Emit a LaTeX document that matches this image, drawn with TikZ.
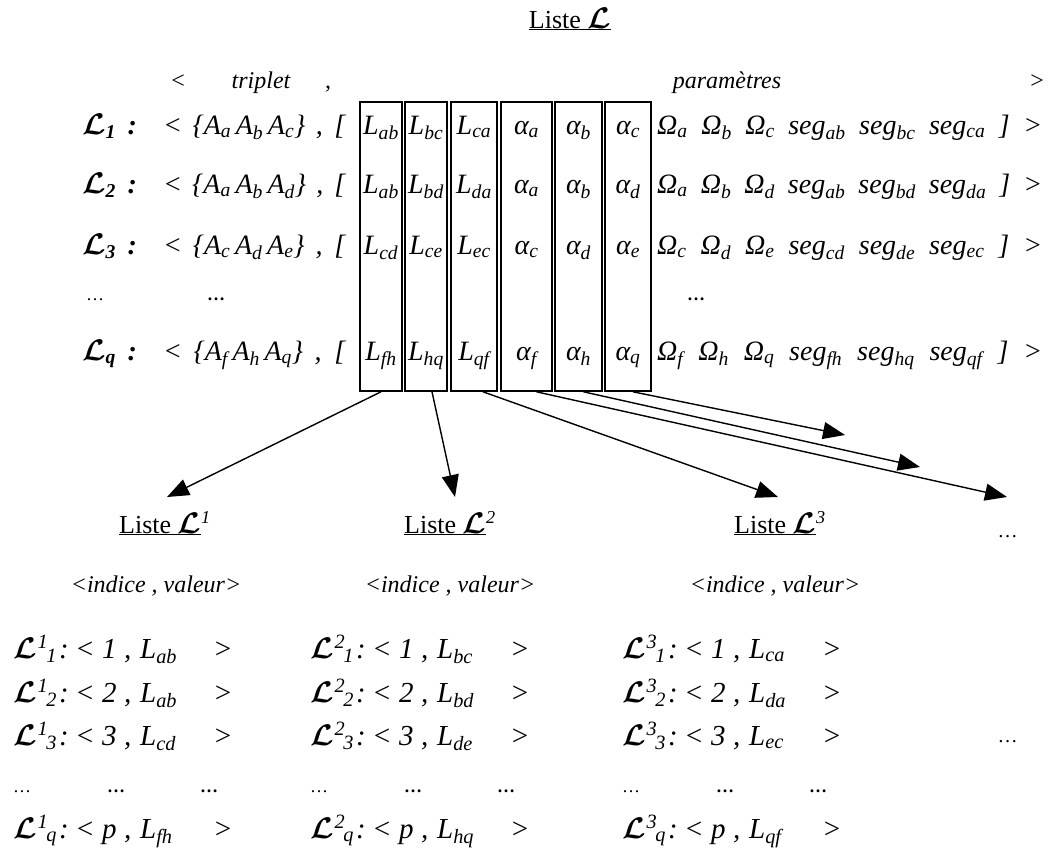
\documentclass[tikz,border=0pt]{standalone}
\usepackage{graphicx}
\usepackage{fontspec}
\setmainfont{Liberation Serif}
\usetikzlibrary{arrows.meta,calc}
\newcommand\Lc{\scalebox{1.2}{\boldmath$\mathcal{L}$}}
\newcommand\sbs[1]{\textsubscript{#1}}
\newcommand\trip[3]{\makebox[182pt][s]{< \{A\sbs{#1}\,A\sbs{#2}\,A\sbs{#3}\} , [}}
\newcommand\pars[6]{\makebox[385pt][s]{Ω\sbs{#1} Ω\sbs{#2} Ω\sbs{#3} seg\sbs{#4} seg\sbs{#5} seg\sbs{#6} ] >}}
\newcommand\brow[4]{\makebox[62pt][l]{\Lc\kern1pt\textsuperscript{#1}\kern-2pt\sbs{#2}\kern2pt:}\makebox[27pt][l]{<}\makebox[22pt][l]{#3}\makebox[16pt][l]{,}\makebox[73pt][l]{L\sbs{#4}}>}
\begin{document}
\begin{tikzpicture}[x=1pt,y=-1pt,
  big/.style={font=\fontsize{28}{32}\selectfont\itshape, inner sep=0pt, anchor=base west},
  lab/.style={font=\fontsize{28}{32}\selectfont\bfseries\itshape, inner sep=0pt, anchor=base west},
  cell/.style={font=\fontsize{28}{32}\selectfont\itshape, inner sep=0pt, anchor=base},
  colbox/.style={draw, line width=1.6pt, minimum width=#1, minimum height=289pt, inner sep=0pt},
  hdr/.style={font=\fontsize{24}{28}\selectfont\itshape, inner sep=0pt, anchor=base},
  title/.style={font=\fontsize{26}{30}\selectfont, inner sep=0pt, anchor=base},
  sml/.style={font=\fontsize{29}{33}\selectfont\itshape, inner sep=0pt, anchor=base west},
  dotsty/.style={font=\fontsize{18}{20}\selectfont, inner sep=0pt, anchor=base west},
  arr/.style={line width=1.4pt, -{Triangle[length=22pt,width=17pt]}}]
\useasboundingbox (0,0) rectangle (1060,854);
% title
\node[title] (t0) at (570,28) {\underline{Liste \Lc}};
% header
\node[hdr] (h1) at (178,88) {<};
\node[hdr] (h2) at (261,88) {triplet};
\node[hdr] (h3) at (328,88) {,};
\node[hdr] (h4) at (727,88) {paramètres};
\node[hdr] (h5) at (1037,88) {>};
% column boxes
\node[colbox=42pt] (c1) at (381,246.5) {};
\node[colbox=42pt] (c2) at (426,246.5) {};
\node[colbox=46pt] (c3) at (474,246.5) {};
\node[colbox=51pt] (c4) at (526.5,246.5) {};
\node[colbox=47pt] (c5) at (578.5,246.5) {};
\node[colbox=46pt] (c6) at (628,246.5) {};
% row 1
\node[lab] (l1) at (82,134) {\Lc\sbs{1}\, :};
\node[big] (p1) at (163,134) {\trip{a}{b}{c}};
\node[cell] (r1a) at (381,134) {L\sbs{ab}};
\node[cell] (r1b) at (426,134) {L\sbs{bc}};
\node[cell] (r1c) at (474,134) {L\sbs{ca}};
\node[cell] (r1d) at (526.5,134) {α\sbs{a}};
\node[cell] (r1e) at (578.5,134) {α\sbs{b}};
\node[cell] (r1f) at (628,134) {α\sbs{c}};
\node[big] (q1) at (657,134) {\pars{a}{b}{c}{ab}{bc}{ca}};
% row 2
\node[lab] (l2) at (82,193) {\Lc\sbs{2}\, :};
\node[big] (p2) at (163,193) {\trip{a}{b}{d}};
\node[cell] (r2a) at (381,193) {L\sbs{ab}};
\node[cell] (r2b) at (426,193) {L\sbs{bd}};
\node[cell] (r2c) at (474,193) {L\sbs{da}};
\node[cell] (r2d) at (526.5,193) {α\sbs{a}};
\node[cell] (r2e) at (578.5,193) {α\sbs{b}};
\node[cell] (r2f) at (628,193) {α\sbs{d}};
\node[big] (q2) at (657,193) {\pars{a}{b}{d}{ab}{bd}{da}};
% row 3
\node[lab] (l3) at (82,254) {\Lc\sbs{3}\, :};
\node[big] (p3) at (163,254) {\trip{c}{d}{e}};
\node[cell] (r3a) at (381,254) {L\sbs{cd}};
\node[cell] (r3b) at (426,254) {L\sbs{ce}};
\node[cell] (r3c) at (474,254) {L\sbs{ec}};
\node[cell] (r3d) at (526.5,254) {α\sbs{c}};
\node[cell] (r3e) at (578.5,254) {α\sbs{d}};
\node[cell] (r3f) at (628,254) {α\sbs{e}};
\node[big] (q3) at (657,254) {\pars{c}{d}{e}{cd}{de}{ec}};
% dots row
\node[dotsty] (d1) at (86,300) {\dots};
\node[dotsty,font=\fontsize{18}{20}\selectfont\bfseries] (d2) at (207,300) {\dots};
\node[dotsty,font=\fontsize{18}{20}\selectfont\bfseries] (d3) at (687,300) {\dots};
% row q
\node[lab] (l4) at (82,360) {\Lc\sbs{q}\, :};
\node[big] (p4) at (163,360) {\trip{f}{h}{q}};
\node[cell] (r4a) at (381,360) {L\sbs{fh}};
\node[cell] (r4b) at (426,360) {L\sbs{hq}};
\node[cell] (r4c) at (474,360) {L\sbs{qf}};
\node[cell] (r4d) at (526.5,360) {α\sbs{f}};
\node[cell] (r4e) at (578.5,360) {α\sbs{h}};
\node[cell] (r4f) at (628,360) {α\sbs{q}};
\node[big] (q4) at (657,360) {\pars{f}{h}{q}{fh}{hq}{qf}};
% arrow tips
\coordinate (e1) at (167,497);
\coordinate (e2) at (455,497);
\coordinate (e3) at (778,497);
\coordinate (e4) at (1007,497);
\coordinate (e5) at (920,467);
\coordinate (e6) at (845,435);
\draw[arr] (c1.south) -- (e1);
\draw[arr] ($(c2.south)+(6,0)$) -- (e2);
\draw[arr] ($(c3.south)+(9,0)$) -- (e3);
\draw[arr] ($(c4.south)+(10,0)$) -- (e4);
\draw[arr] ($(c5.south)+(5,0)$) -- (e5);
\draw[arr] ($(c6.south)+(5,0)$) -- (e6);
% sub-lists
\node[title] (t1) at (165,533) {\underline{Liste \Lc}\textsuperscript{\itshape 1}};
\node[title] (t2) at (450,533) {\underline{Liste \Lc}\textsuperscript{\itshape 2}};
\node[title] (t3) at (780,533) {\underline{Liste \Lc}\textsuperscript{\itshape 3}};
\node[hdr,font=\fontsize{20}{22}\selectfont\itshape] (m1) at (1008,537) {\dots};
\node[hdr] (i1) at (156,592) {<indice , valeur>};
\node[hdr] (i2) at (450,592) {<indice , valeur>};
\node[hdr] (i3) at (775,592) {<indice , valeur>};
% column 1
\node[sml] (a1) at (13,658) {\brow{1}{1}{1}{ab}};
\node[sml] (a2) at (13,702) {\brow{1}{2}{2}{ab}};
\node[sml] (a3) at (13,745) {\brow{1}{3}{3}{cd}};
\node[dotsty] (a4) at (13,792) {\makebox[94pt][l]{\dots}\makebox[93pt][l]{\bfseries\dots}\bfseries\dots};
\node[sml] (a5) at (13,838) {\brow{1}{q}{p}{fh}};
% column 2
\node[sml] (b1) at (310,658) {\brow{2}{1}{1}{bc}};
\node[sml] (b2) at (310,702) {\brow{2}{2}{2}{bd}};
\node[sml] (b3) at (310,745) {\brow{2}{3}{3}{de}};
\node[dotsty] (b4) at (310,792) {\makebox[94pt][l]{\dots}\makebox[93pt][l]{\bfseries\dots}\bfseries\dots};
\node[sml] (b5) at (310,838) {\brow{2}{q}{p}{hq}};
% column 3
\node[sml] (g1) at (622,658) {\brow{3}{1}{1}{ca}};
\node[sml] (g2) at (622,702) {\brow{3}{2}{2}{da}};
\node[sml] (g3) at (622,745) {\brow{3}{3}{3}{ec}};
\node[dotsty] (g4) at (622,792) {\makebox[94pt][l]{\dots}\makebox[93pt][l]{\bfseries\dots}\bfseries\dots};
\node[sml] (g5) at (622,838) {\brow{3}{q}{p}{qf}};
\node[hdr,font=\fontsize{20}{22}\selectfont\itshape] (m2) at (1008,742) {\dots};
\end{tikzpicture}
\end{document}
